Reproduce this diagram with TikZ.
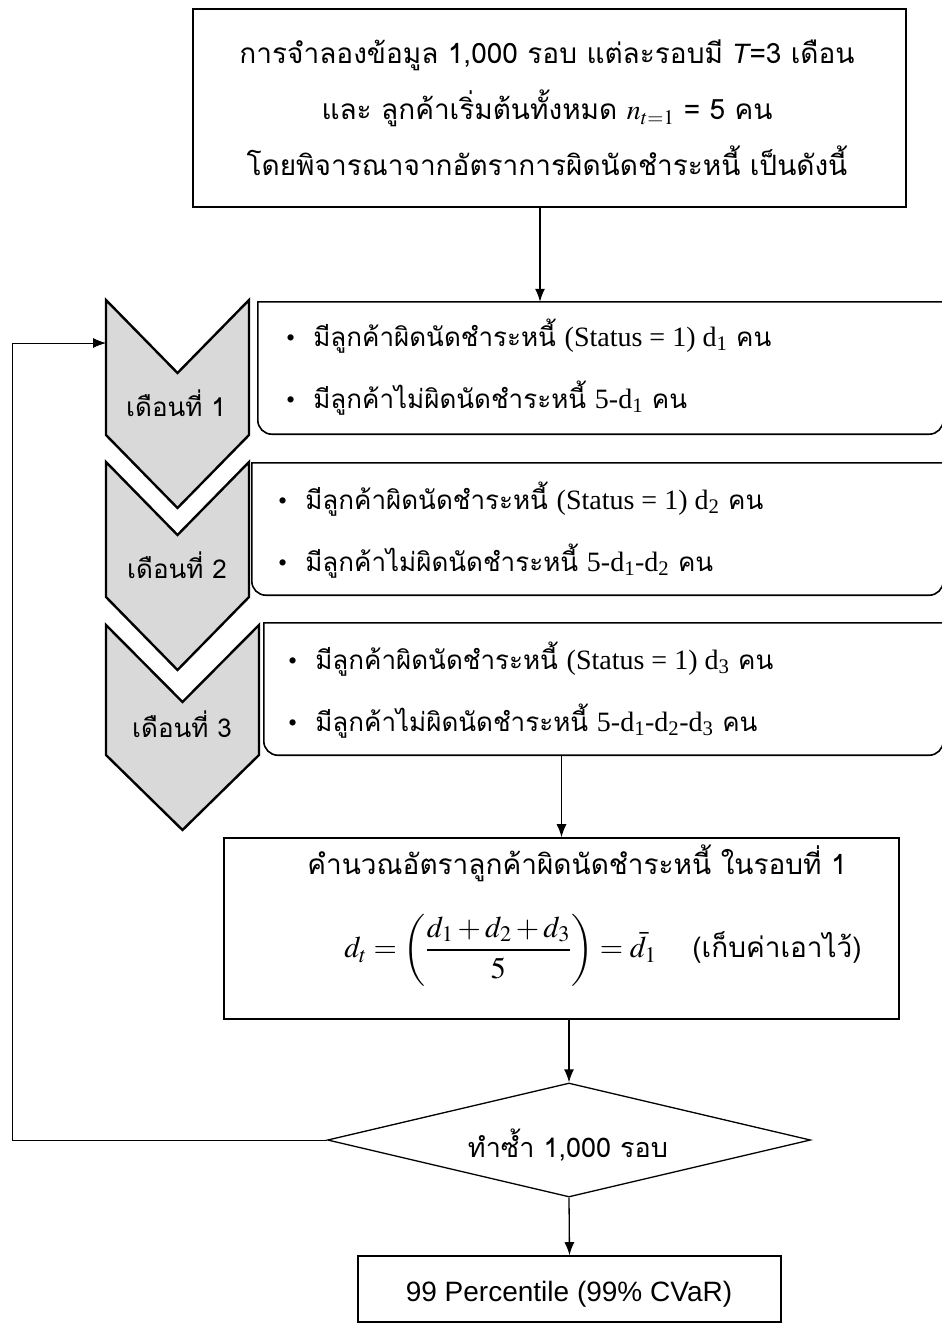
\RequirePackage{fix-cm}
\documentclass[tikz,border=0pt]{standalone}
\usepackage{mathptmx}
\usepackage{fontspec}
\setmainfont[Script=Thai]{Loma}
\newfontfamily\tnr{Liberation Serif}
\newfontfamily\arl{Liberation Sans}
\usetikzlibrary{shapes.geometric,arrows.meta}

\begin{document}
\begin{tikzpicture}[x=1pt,y=-1pt]

      \useasboundingbox (0,0) rectangle (942,1323);

      % boxes
      \begin{scope}[every node/.style={draw, line width=1.6pt, inner sep=0pt}]
        \node (init) at (549.5,108)   [minimum width=713pt, minimum height=198pt] {};
        \node (calc) at (561.5,928.5) [minimum width=675pt, minimum height=181pt] {};
        \node (rep)  at (569,1140)  [diamond, line width=1.3pt, minimum width=483pt, minimum height=114pt, aspect=4.2] {};
        \node (res)  at (569.5,1289) [minimum width=423pt, minimum height=66pt] {};
      \end{scope}

      % month boxes, outline drawn below
      \begin{scope}[every node/.style={inner sep=0pt}]
        \node (b1) at (600.5,368) [minimum width=685pt, minimum height=132pt] {};
        \node (b2) at (597.5,529) [minimum width=691pt, minimum height=132pt] {};
        \node (b3) at (603.5,689) [minimum width=679pt, minimum height=132pt] {};
      \end{scope}
      \begin{scope}[line width=1.6pt]
        \draw (b1.north west) -- (b1.north east) [rounded corners=14pt] -- (b1.south east) -- (b1.south west) [sharp corners] -- cycle;
        \draw (b2.north west) -- (b2.north east) [rounded corners=14pt] -- (b2.south east) -- (b2.south west) [sharp corners] -- cycle;
        \draw (b3.north west) -- (b3.north east) [rounded corners=14pt] -- (b3.south east) -- (b3.south west) [sharp corners] -- cycle;
      \end{scope}

      % chevrons
      \begin{scope}[line width=2.4pt, fill=gray!30, line join=miter]
        \filldraw (106,300) -- (177.5,373) -- (249,300) -- (249,435) -- (177.5,508) -- (106,435) -- cycle;
        \filldraw (106,462) -- (177.5,535) -- (249,462) -- (249,597) -- (177.5,670) -- (106,597) -- cycle;
        \filldraw (106,625) -- (182.5,702) -- (259,625) -- (259,755) -- (182.5,830) -- (106,755) -- cycle;
      \end{scope}

      % texts
      \begin{scope}[every node/.style={inner sep=0pt, font=\fontsize{28}{32}\selectfont}]
        \node (t0) at (547,108) [align=center, font=\fontsize{28}{56}\selectfont]
          {การจำลองข้อมูล 1,000 รอบ แต่ละรอบมี {\arl\itshape T}=3 เดือน\\
           และ ลูกค้าเริ่มต้นทั้งหมด $n_{t=1}$ = 5 คน\\
           โดยพิจารณาจากอัตราการผิดนัดชำระหนี้ เป็นดังนี้};
        \node (m1) at (176,403) [font=\fontsize{26}{30}\selectfont] {เดือนที่ 1};
        \node (m2) at (177,565) [font=\fontsize{26}{30}\selectfont] {เดือนที่ 2};
        \node (m3) at (182,724) [font=\fontsize{26}{30}\selectfont] {เดือนที่ 3};
        \node (c1) at (577,863) {คำนวณอัตราลูกค้าผิดนัดชำระหนี้ ในรอบที่ 1};
        \node (c2) at (603,950) {\fontsize{30}{34}\selectfont
          $\displaystyle d_t = \left(\frac{d_1+d_2+d_3}{5}\right) = \bar{d}_1$\hspace{36pt}{\fontsize{28}{32}\selectfont(เก็บค่าเอาไว้)}};
        \node (r1) at (568,1145) [font=\fontsize{27}{30}\selectfont] {ทำซ้ำ 1,000 รอบ};
        \node (r2) at (569,1294) {\arl\fontsize{28}{30}\selectfont 99 Percentile (99\% CVaR)};
      \end{scope}

      \begin{scope}[every node/.style={inner sep=0pt, anchor=west, align=left, font=\fontsize{26}{62}\selectfont}]
        \node (l1) at (286,367)
          {{\tnr\textbullet}\hspace{18pt}มีลูกค้าผิดนัดชำระหนี้ {\tnr\fontsize{28}{30}\selectfont (Status = 1) d\textsubscript{1}} คน\\
           {\tnr\textbullet}\hspace{18pt}มีลูกค้าไม่ผิดนัดชำระหนี้ {\tnr\fontsize{28}{30}\selectfont 5-d\textsubscript{1}} คน};
        \node (l2) at (278,530)
          {{\tnr\textbullet}\hspace{18pt}มีลูกค้าผิดนัดชำระหนี้ {\tnr\fontsize{28}{30}\selectfont (Status = 1) d\textsubscript{2}} คน\\
           {\tnr\textbullet}\hspace{18pt}มีลูกค้าไม่ผิดนัดชำระหนี้ {\tnr\fontsize{28}{30}\selectfont 5-d\textsubscript{1}-d\textsubscript{2}} คน};
        \node (l3) at (288,690)
          {{\tnr\textbullet}\hspace{18pt}มีลูกค้าผิดนัดชำระหนี้ {\tnr\fontsize{28}{30}\selectfont (Status = 1) d\textsubscript{3}} คน\\
           {\tnr\textbullet}\hspace{18pt}มีลูกค้าไม่ผิดนัดชำระหนี้ {\tnr\fontsize{28}{30}\selectfont 5-d\textsubscript{1}-d\textsubscript{2}-d\textsubscript{3}} คน};
      \end{scope}

      \coordinate (down) at (540,208);
      \coordinate (back) at (12,343);
      \coordinate (in1)  at (106,343);

      % connectors
      \begin{scope}[every edge/.style={draw, line width=1.3pt, -{Latex[length=13pt, width=10pt]}}]
        \path (down) edge (down |- b1.north);
        \path (calc.north |- b3.south) edge (calc.north);
        \path (rep.north |- calc.south) edge (rep.north);
        \path (rep.south) edge (res.north);
      \end{scope}
      \draw[line width=0.8pt, -{Latex[length=13pt, width=10pt]}] (rep.west) -| (back) -- (in1);

    \end{tikzpicture}
\end{document}
